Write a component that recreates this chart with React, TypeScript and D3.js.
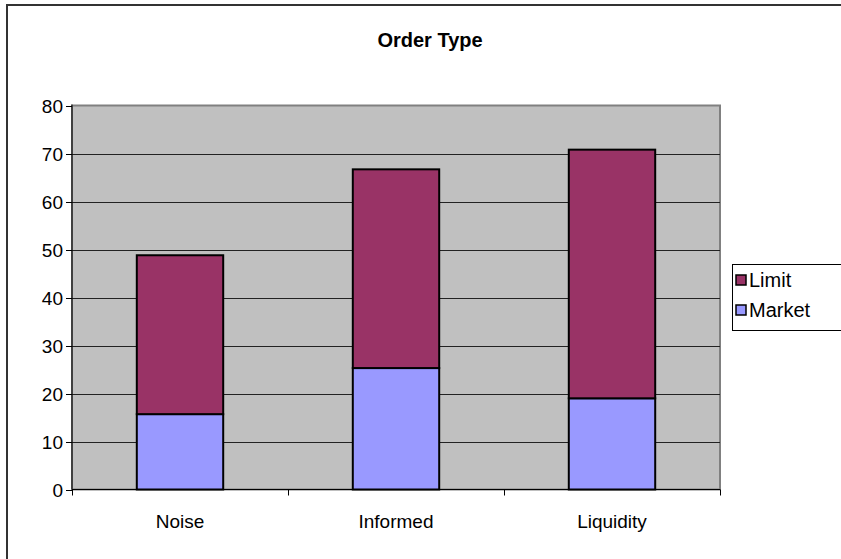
import React from "react";
import * as d3 from "d3";

const categories = ["Noise", "Informed", "Liquidity"];
const marketValues = [15.7, 25.3, 19.0];
const limitValues = [33.1, 41.4, 51.8];
const seriesNames = ["Limit", "Market"];
const seriesColors = ["#993366", "#9999FF"];
const yTicks = [0, 10, 20, 30, 40, 50, 60, 70, 80];

export default function App() {
  const W = 841, H = 559;
  const left = 72, right = 720, top = 105.5, bottom = 489.5;
  const x = d3.scaleBand<string>().domain(categories).range([left, right]).paddingInner(0.6).paddingOuter(0.3);
  const xOuter = d3.scaleBand<string>().domain(categories).range([left, right]);
  const y = d3.scaleLinear().domain([0, 80]).range([bottom, top]);
  const font = "'Liberation Sans', Arial, sans-serif";

  return (
    <svg width={W} height={H} style={{ position: "absolute", left: 0, top: 0 }} fontFamily={font}>
      <rect x={0} y={0} width={W} height={H} fill="#fff" />
      <rect x={7} y={5} width={1000} height={1000} fill="#fff" stroke="#333" strokeWidth={2} />
      <text x={430} y={47} textAnchor="middle" fontSize={20} fontWeight="bold">Order Type</text>
      <rect x={left} y={top} width={right - left} height={bottom - top} fill="#C0C0C0" stroke="#808080" strokeWidth={2} />
      {yTicks.filter(t => t > 0 && t < 80).map(t => (
        <line key={t} x1={left} x2={right} y1={Math.round(y(t)) + 0.5} y2={Math.round(y(t)) + 0.5} stroke="#222" strokeWidth={1} />
      ))}
      {categories.map((c, i) => {
        const bx = x(c)!;
        const bw = x.bandwidth();
        return (
          <g key={c}>
            <rect x={bx} y={y(marketValues[i])} width={bw} height={y(0) - y(marketValues[i])} fill={seriesColors[1]} stroke="#000" strokeWidth={2} />
            <rect x={bx} y={y(marketValues[i] + limitValues[i])} width={bw} height={y(marketValues[i]) - y(marketValues[i] + limitValues[i])} fill={seriesColors[0]} stroke="#000" strokeWidth={2} />
          </g>
        );
      })}
      <line x1={left} x2={left} y1={top - 1} y2={bottom} stroke="#000" strokeWidth={1} />
      <line x1={left} x2={right} y1={bottom} y2={bottom} stroke="#000" strokeWidth={1} />
      {yTicks.map(t => (
        <g key={t}>
          <line x1={left - 6} x2={left} y1={Math.round(y(t)) + 0.5} y2={Math.round(y(t)) + 0.5} stroke="#000" />
          <text x={left - 9} y={y(t) + 7} textAnchor="end" fontSize={19}>{t}</text>
        </g>
      ))}
      {[...categories.map(c => xOuter(c)!), right].map((v, i) => (
        <line key={i} x1={Math.round(v) + 0.5} x2={Math.round(v) + 0.5} y1={bottom} y2={bottom + 6} stroke="#000" />
      ))}
      {categories.map(c => (
        <text key={c} x={xOuter(c)! + xOuter.bandwidth() / 2} y={528} textAnchor="middle" fontSize={19}>{c}</text>
      ))}
      <rect x={732.5} y={264.5} width={120} height={66} fill="#fff" stroke="#000" strokeWidth={1} />
      {seriesNames.map((s, i) => (
        <g key={s}>
          <rect x={736} y={275 + i * 30} width={10} height={10} fill={seriesColors[i]} stroke="#000" strokeWidth={1.5} />
          <text x={749} y={287 + i * 30} fontSize={20}>{s}</text>
        </g>
      ))}
    </svg>
  );
}
